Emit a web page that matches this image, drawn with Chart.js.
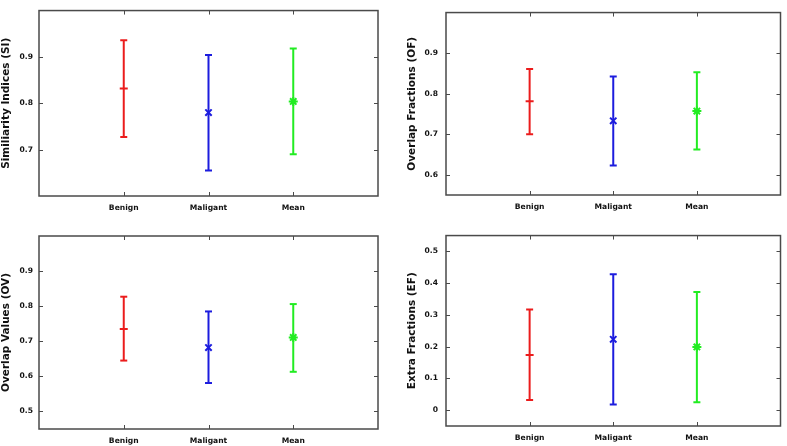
<!DOCTYPE html>
<html><head><meta charset="utf-8">
<script src="https://cdn.jsdelivr.net/npm/chart.js@4"></script>
<style>
html,body{margin:0;padding:0;background:#fff;width:787px;height:446px;overflow:hidden}
.p{position:absolute}
canvas{display:block}
</style></head><body>
<div class="p" style="left:0;top:0"><canvas id="c1" width="394" height="223"></canvas></div>
<div class="p" style="left:394px;top:0"><canvas id="c2" width="393" height="223"></canvas></div>
<div class="p" style="left:0;top:223px"><canvas id="c3" width="394" height="223"></canvas></div>
<div class="p" style="left:394px;top:223px"><canvas id="c4" width="393" height="223"></canvas></div>
<script>
// ---- data ----
const categories = ['Benign', 'Maligant', 'Mean'];

const siMean = [0.832, 0.780, 0.804];
const siLow  = [0.727, 0.655, 0.690];
const siHigh = [0.936, 0.904, 0.918];
const siTicks = [0.7, 0.8, 0.9];

const ofMean = [0.781, 0.733, 0.757];
const ofLow  = [0.700, 0.623, 0.662];
const ofHigh = [0.861, 0.842, 0.853];
const ofTicks = [0.6, 0.7, 0.8, 0.9];

const ovMean = [0.735, 0.682, 0.711];
const ovLow  = [0.645, 0.581, 0.613];
const ovHigh = [0.827, 0.785, 0.806];
const ovTicks = [0.5, 0.6, 0.7, 0.8, 0.9];

const efMean = [0.174, 0.223, 0.199];
const efLow  = [0.032, 0.018, 0.025];
const efHigh = [0.317, 0.428, 0.372];
const efTicks = [0, 0.1, 0.2, 0.3, 0.4, 0.5];

// ---- styling ----
const colors = ['rgb(235,28,28)', 'rgb(28,28,222)', 'rgb(34,236,34)'];
const markers = ['line', 'crossRot', 'star'];
const FONT = '"DejaVu Sans", Verdana, sans-serif';

const framePlugin = {
  id: 'frame',
  beforeDatasetsDraw(chart) {
    const {ctx, chartArea: a, scales: {x, y}} = chart;
    ctx.save();
    ctx.strokeStyle = '#4a4a4a';
    ctx.lineWidth = 1.5;
    ctx.strokeRect(a.left, a.top, a.right - a.left, a.bottom - a.top);
    ctx.lineWidth = 1;
    ctx.beginPath();
    y.ticks.forEach(t => {
      const py = Math.round(y.getPixelForValue(t.value)) + 0.5;
      ctx.moveTo(a.left, py); ctx.lineTo(a.left + 4, py);
      ctx.moveTo(a.right, py); ctx.lineTo(a.right - 4, py);
    });
    x.ticks.forEach(t => {
      const px = Math.round(x.getPixelForValue(t.value)) + 0.5;
      ctx.moveTo(px, a.bottom); ctx.lineTo(px, a.bottom - 4);
      ctx.moveTo(px, a.top); ctx.lineTo(px, a.top + 4);
    });
    ctx.stroke();
    ctx.restore();
  }
};

function makeChart(cfg) {
  const datasets = [];
  categories.forEach((c, i) => {
    datasets.push({
      type: 'scatter', showLine: true,
      data: [{x: i + 1, y: cfg.low[i]}, {x: i + 1, y: cfg.high[i]}],
      borderColor: colors[i], borderWidth: 2,
      pointStyle: 'line', pointRadius: 3.5, pointBorderWidth: 2,
      pointBorderColor: colors[i], pointBackgroundColor: colors[i]
    });
    datasets.push({
      type: 'scatter',
      data: [{x: i + 1, y: cfg.mean[i]}],
      pointStyle: markers[i], pointRadius: i === 0 ? 4 : 4.5, pointBorderWidth: 2,
      pointBorderColor: colors[i], pointBackgroundColor: colors[i]
    });
  });
  new Chart(document.getElementById(cfg.id), {
    type: 'scatter',
    data: {datasets},
    plugins: [framePlugin],
    options: {
      responsive: false, animation: false,
      layout: {padding: {left: 0, right: cfg.padRight, top: cfg.padTop, bottom: 0}},
      plugins: {legend: {display: false}, tooltip: {enabled: false}},
      scales: {
        x: {
          type: 'linear', min: 0, max: 4,
          afterBuildTicks: s => { s.ticks = categories.map((c, i) => ({value: i + 1})); },
          afterFit: s => { s.height = cfg.xh; },
          ticks: {
            callback: v => categories[v - 1],
            font: {family: FONT, size: 7.6, weight: 'bold'}, color: '#111',
            padding: 7, autoSkip: false, maxRotation: 0
          },
          grid: {display: false, drawTicks: false},
          border: {display: false}
        },
        y: {
          min: cfg.min, max: cfg.max,
          afterBuildTicks: s => { s.ticks = cfg.ticks.map(v => ({value: v})); },
          afterFit: s => { s.width = cfg.yw; },
          ticks: {
            callback: v => String(v),
            font: {family: FONT, size: 7.6, weight: 'bold'}, color: '#111',
            padding: cfg.tickPad
          },
          grid: {display: false, drawTicks: false},
          border: {display: false},
          title: {
            display: true, text: cfg.title, color: '#111',
            font: {family: FONT, size: 10.5, weight: 'bold'},
            padding: {top: cfg.titlePad, bottom: 0}
          }
        }
      }
    }
  });
}

makeChart({id: 'c1', title: 'Similiarity Indices (SI)', mean: siMean, low: siLow, high: siHigh, ticks: siTicks,
  min: 0.6, max: 1.0, yw: 39, padRight: 16, padTop: 3, xh: 27, tickPad: 6, titlePad: 0});
makeChart({id: 'c2', title: 'Overlap Fractions (OF)', mean: ofMean, low: ofLow, high: ofHigh, ticks: ofTicks,
  min: 0.55, max: 1.0, yw: 52, padRight: 5, padTop: 2, xh: 28, tickPad: 8, titlePad: 12});
makeChart({id: 'c3', title: 'Overlap Values (OV)', mean: ovMean, low: ovLow, high: ovHigh, ticks: ovTicks,
  min: 0.45, max: 1.0, yw: 39, padRight: 16, padTop: 13, xh: 17, tickPad: 6, titlePad: 0});
makeChart({id: 'c4', title: 'Extra Fractions (EF)', mean: efMean, low: efLow, high: efHigh, ticks: efTicks,
  min: -0.05, max: 0.55, yw: 52, padRight: 5, padTop: 10, xh: 20, tickPad: 8, titlePad: 12});
</script>
</body></html>
